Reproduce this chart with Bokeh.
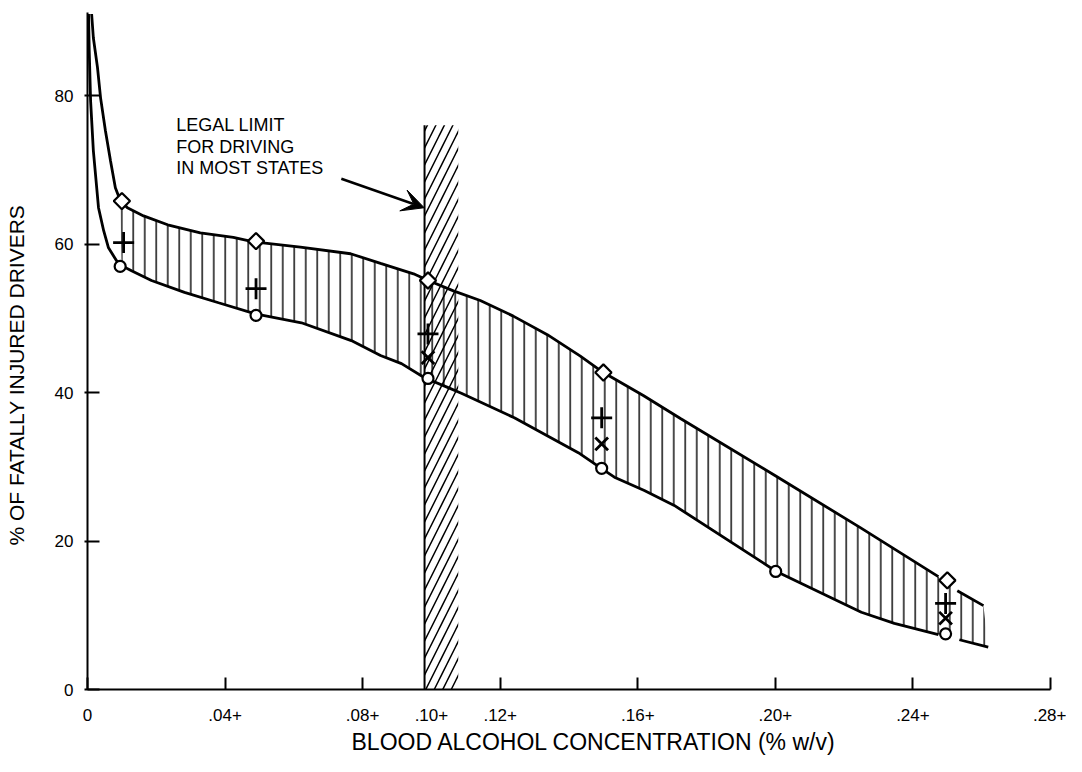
import math
from bokeh.plotting import figure
from bokeh.models import FixedTicker, Label, Arrow, VeeHead, Range1d, Title
from bokeh.embed import file_html
from bokeh.resources import INLINE

nan = float("nan")

# ---- data ----
x_tick_marks = [0, 0.04, 0.08, 0.12, 0.16, 0.20, 0.24, 0.28]
x_label_pos = [0, 0.04, 0.08, 0.10, 0.12, 0.16, 0.20, 0.24, 0.28]
x_tick_labels = ["0", ".04+", ".08+", ".10+", ".12+", ".16+", ".20+", ".24+", ".28+"]
y_ticks = [0, 20, 40, 60, 80]

upper_x = [0.0012, 0.0017, 0.0029, 0.0038, 0.0052, 0.0067, 0.0081, 0.0095, 0.0116, 0.0163,
           0.0233, 0.0328, 0.0424, 0.0483, 0.0619, 0.0765, 0.0852, 0.0948, 0.0991, 0.1064,
           0.1142, 0.1238, 0.1337, 0.1433, 0.1500, 0.1616, 0.1724, 0.2000, 0.2247, 0.2474,
           nan, 0.2529, 0.2605]
upper_y = [91.0, 87.8, 83.8, 79.7, 75.3, 71.2, 67.6, 65.9, 64.9, 63.8,
           62.6, 61.5, 60.9, 60.3, 59.6, 58.7, 57.4, 56.0, 55.1, 53.7,
           52.4, 50.3, 47.8, 44.9, 42.7, 39.6, 36.5, 28.8, 21.8, 15.2,
           nan, 13.3, 11.3]

lower_x = [0.0003, 0.0005, 0.0009, 0.0017, 0.0032, 0.0047, 0.0061, 0.0084, 0.0099, 0.0128,
           0.0186, 0.0282, 0.0381, 0.0488, 0.0622, 0.0767, 0.0852, 0.0913, 0.0980, 0.1047,
           0.1087, 0.1241, 0.1427, 0.1494, 0.1532, 0.1619, 0.1706, 0.2003, 0.2250, 0.2346,
           0.2474, nan, 0.2535, 0.2619]
lower_y = [91.0, 86.1, 79.3, 72.6, 64.9, 61.8, 59.5, 57.8, 57.1, 56.4,
           55.1, 53.5, 52.1, 50.6, 49.4, 47.0, 45.0, 43.9, 42.0, 40.7,
           39.9, 36.6, 31.9, 29.8, 28.6, 26.8, 24.8, 15.9, 10.4, 8.9,
           7.4, nan, 6.7, 5.7]

diamond_x = [0.01, 0.049, 0.099, 0.15, 0.25]
diamond_y = [65.8, 60.4, 55.1, 42.7, 14.7]
plus_x = [0.0105, 0.049, 0.099, 0.1495, 0.2495]
plus_y = [60.2, 54.0, 47.9, 36.6, 11.6]
cross_x = [0.099, 0.1495, 0.2495]
cross_y = [44.7, 33.1, 9.6]
circle_x = [0.0095, 0.049, 0.099, 0.1495, 0.2001, 0.2495]
circle_y = [57.0, 50.4, 41.9, 29.8, 15.9, 7.5]

legal_lo = 0.098
legal_hi = 0.1078
legal_top = 76.0

legal_text = ["LEGAL LIMIT", "FOR DRIVING", "IN MOST STATES"]
legal_text_x = 0.0258
legal_text_y = [76.0, 73.1, 70.2]
arrow_start = (0.0738, 68.8)
arrow_end = (0.0979, 64.9)

x_title = "BLOOD ALCOHOL CONCENTRATION (% w/v)"
y_title = "% OF FATALLY INJURED DRIVERS"

FONT = "Liberation Sans"

p = figure(width=1066, height=762, output_backend="svg", toolbar_location=None,
           x_range=Range1d(0, 0.28), y_range=Range1d(0, 91.2),
           min_border_left=86, min_border_right=16, min_border_top=12, min_border_bottom=73)
p.outline_line_color = None
p.xgrid.visible = False
p.ygrid.visible = False
p.background_fill_color = "white"

# x axis: labels at major positions (no marks), marks drawn as minor ticks
p.xaxis.ticker = FixedTicker(ticks=x_label_pos, minor_ticks=x_tick_marks)
p.xaxis.major_label_overrides = {t: l for t, l in zip(x_label_pos, x_tick_labels)}
p.xaxis.major_tick_line_color = None
p.xaxis.major_tick_in = 0
p.xaxis.major_tick_out = 0
p.xaxis.minor_tick_in = 12
p.xaxis.minor_tick_out = 0
p.xaxis.minor_tick_line_width = 2
p.xaxis.minor_tick_line_color = "black"
p.xaxis.major_label_standoff = 19

p.yaxis.ticker = FixedTicker(ticks=y_ticks)
p.yaxis.minor_tick_line_color = None
p.yaxis.major_tick_in = 12
p.yaxis.major_tick_out = 3
p.yaxis.major_tick_line_width = 2
p.yaxis.major_tick_line_color = "black"
p.yaxis.major_label_standoff = 11
# blank spacer label to push the side title outward
p.yaxis.axis_label = "\u00a0"
p.yaxis.axis_label_text_font_size = "8px"
p.yaxis.axis_label_standoff = 10

for ax in (p.xaxis, p.yaxis):
    ax.axis_line_width = 2
    ax.axis_line_color = "black"
    ax.major_label_text_font = FONT
    ax.major_label_text_font_size = "17px"
    ax.major_label_text_color = "black"

# axis titles as side titles so they can be positioned along the axis
p.add_layout(Title(text=y_title, align="left", offset=144, text_font=FONT,
                   text_font_size="21px", text_font_style="normal", text_color="black",
                   standoff=4), "left")
p.add_layout(Title(text=x_title, align="left", offset=264, text_font=FONT,
                   text_font_size="23px", text_font_style="normal", text_color="black",
                   standoff=6), "below")

# legal limit hatched band
p.quad(left=[legal_lo], right=[legal_hi], bottom=[0], top=[legal_top],
       fill_color=None, line_color=None, hatch_pattern="right_diagonal_line",
       hatch_scale=17, hatch_weight=1.5, hatch_color="black")
p.segment(x0=[legal_lo], y0=[0], x1=[legal_lo], y1=[legal_top], line_color="black", line_width=2)

# hatched region between the two curves
up_pts = [(x, y) for x, y in zip(upper_x, upper_y) if not math.isnan(x) and x >= 0.0095]
lo_pts = [(x, y) for x, y in zip(lower_x, lower_y) if not math.isnan(x) and x >= 0.0095]
poly_x = [q[0] for q in up_pts] + [q[0] for q in reversed(lo_pts)]
poly_y = [q[1] for q in up_pts] + [q[1] for q in reversed(lo_pts)]
p.patch(poly_x, poly_y, fill_color=None, line_color=None,
        hatch_pattern="vertical_line", hatch_scale=11.5, hatch_weight=1.4, hatch_color="black")

# envelope curves
p.line(upper_x, upper_y, line_color="black", line_width=2.8)
p.line(lower_x, lower_y, line_color="black", line_width=2.8)

# markers
p.scatter(diamond_x, diamond_y, marker="square", angle=math.pi / 4, size=11.5,
          fill_color="white", line_color="black", line_width=2.2)
p.scatter(plus_x, plus_y, marker="cross", size=21, line_color="black", line_width=2.8)
p.scatter(cross_x, cross_y, marker="x", size=18, line_color="black", line_width=2.8)
p.scatter(circle_x, circle_y, marker="circle", size=11,
          fill_color="white", line_color="black", line_width=2.2)

# annotation text and arrow
for t, yy in zip(legal_text, legal_text_y):
    p.add_layout(Label(x=legal_text_x, y=yy, text=t, text_font=FONT, text_font_size="18px",
                       text_align="left", text_baseline="middle", text_color="black"))
p.add_layout(Arrow(x_start=arrow_start[0], y_start=arrow_start[1],
                   x_end=arrow_end[0], y_end=arrow_end[1], line_width=2.5, line_color="black",
                   end=VeeHead(size=22, fill_color="black", line_color="black")))

open("out.html", "w").write(file_html(p, INLINE))
